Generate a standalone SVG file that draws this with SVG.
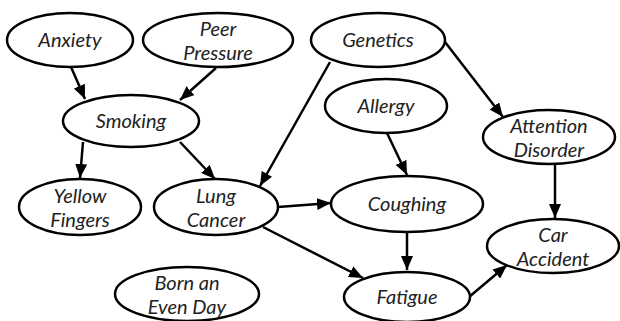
<svg xmlns="http://www.w3.org/2000/svg" width="620" height="321" viewBox="0 0 620 321">
<style>
.n ellipse{fill:#fff;stroke:#000;stroke-width:2.5}
.n text{font-family:Lato,"Open Sans","Liberation Sans",sans-serif;font-style:italic;font-size:20px;fill:#222;text-anchor:middle}
.e line{stroke:#000;stroke-width:2.5;marker-end:url(#ah)}
</style>
<defs>
<marker id="ah" viewBox="0 0 14 12" refX="14" refY="6" markerWidth="14" markerHeight="12" markerUnits="userSpaceOnUse" orient="auto">
<path d="M0,0 L14,6 L0,12 z" fill="#000"/>
</marker>
</defs>
<rect width="620" height="321" fill="#fff"/>
<g class="e">
<line x1="71" y1="67" x2="85" y2="99"/>
<line x1="216" y1="68" x2="180" y2="100"/>
<line x1="330" y1="62" x2="260" y2="186"/>
<line x1="445" y1="42" x2="503" y2="117"/>
<line x1="83" y1="142" x2="80" y2="178"/>
<line x1="180" y1="142" x2="215" y2="179"/>
<line x1="387" y1="133" x2="407" y2="175"/>
<line x1="555" y1="163" x2="555" y2="218"/>
<line x1="278" y1="207" x2="331" y2="203"/>
<line x1="263" y1="227" x2="363" y2="278"/>
<line x1="407" y1="232" x2="407" y2="270"/>
<line x1="469" y1="297" x2="507" y2="265"/>
</g>
<g id="anxiety" class="n"><ellipse cx="70" cy="40" rx="63" ry="27"/><text x="70" y="47">Anxiety</text></g>
<g id="peer" class="n"><ellipse cx="218" cy="40" rx="75" ry="27"/><text x="218" y="36">Peer</text><text x="218" y="60">Pressure</text></g>
<g id="genetics" class="n"><ellipse cx="378" cy="40" rx="67" ry="27"/><text x="378" y="47">Genetics</text></g>
<g id="smoking" class="n"><ellipse cx="131" cy="121" rx="68" ry="26"/><text x="131" y="128">Smoking</text></g>
<g id="allergy" class="n"><ellipse cx="386" cy="106" rx="61" ry="27"/><text x="386" y="113">Allergy</text></g>
<g id="attention" class="n"><ellipse cx="549" cy="137" rx="66" ry="27"/><text x="549" y="133">Attention</text><text x="549" y="157">Disorder</text></g>
<g id="yellow" class="n"><ellipse cx="80" cy="207" rx="61" ry="28"/><text x="80" y="203">Yellow</text><text x="80" y="227">Fingers</text></g>
<g id="lung" class="n"><ellipse cx="216" cy="207" rx="62" ry="28"/><text x="216" y="203">Lung</text><text x="216" y="227">Cancer</text></g>
<g id="coughing" class="n"><ellipse cx="407" cy="204" rx="76" ry="28"/><text x="407" y="211">Coughing</text></g>
<g id="car" class="n"><ellipse cx="553" cy="246" rx="66" ry="27"/><text x="553" y="242">Car</text><text x="553" y="266">Accident</text></g>
<g id="born" class="n"><ellipse cx="187" cy="294" rx="72" ry="27"/><text x="187" y="290">Born an</text><text x="187" y="314">Even Day</text></g>
<g id="fatigue" class="n"><ellipse cx="407" cy="297" rx="63" ry="25"/><text x="407" y="304">Fatigue</text></g>
</svg>
